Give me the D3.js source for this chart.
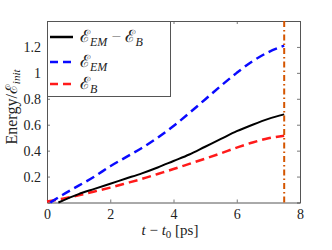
<!DOCTYPE html>
<html>
<head>
<meta charset="utf-8">
<script src="https://cdn.jsdelivr.net/npm/d3@7"></script>
<style>
  body { margin: 0; background: #fff; }
</style>
</head>
<body>
<svg width="332" height="250"></svg>
<script>
    // time axis [ps]
    const tDiff = [0.36, 1, 1.5, 2, 2.5, 3, 3.5, 4, 4.5, 5, 5.5, 6, 6.5, 7, 7.5];
    const diffVals = [0, 0.065, 0.105, 0.145, 0.185, 0.225, 0.27, 0.32, 0.37, 0.43, 0.49, 0.55, 0.6, 0.645, 0.68];

    const tEM = [0.1, 0.5, 1, 1.5, 2, 2.5, 3, 3.5, 4, 4.5, 5, 5.5, 6, 6.5, 7, 7.5];
    const emVals = [0, 0.06, 0.13, 0.2, 0.28, 0.35, 0.42, 0.5, 0.59, 0.69, 0.795, 0.9, 1.0, 1.09, 1.16, 1.21];

    const tB = [0, 0.5, 1, 1.5, 2, 2.5, 3, 3.5, 4, 4.5, 5, 5.5, 6, 6.5, 7, 7.5];
    const bVals = [0.008, 0.03, 0.055, 0.085, 0.115, 0.148, 0.182, 0.22, 0.258, 0.298, 0.338, 0.38, 0.423, 0.463, 0.495, 0.515];

    const tEnd = 7.5;
    const xTicks = [0, 2, 4, 6, 8];
    const yTicks = [0.2, 0.4, 0.6, 0.8, 1, 1.2];

    const SERIF = "Liberation Serif";
    const CAL = "DejaVu Serif";

    const svg = d3.select("svg");
    const margin = { top: 21, right: 32, bottom: 47.5, left: 47 };
    const width = +svg.attr("width");
    const height = +svg.attr("height");

    const x = d3.scaleLinear().domain([0, 8]).range([margin.left, width - margin.right]);
    const y = d3.scaleLinear().domain([0, 1.4]).range([height - margin.bottom, margin.top]);

    const axisCol = "#555";
    const tickFmt = d => d3.format("~g")(d);

    // axes (box on, ticks inwards)
    svg.append("g").attr("class", "ax")
      .attr("transform", `translate(0,${y(0)})`)
      .call(d3.axisBottom(x).tickValues(xTicks).tickSize(-3).tickPadding(7).tickFormat(tickFmt));
    svg.append("g").attr("class", "ax")
      .attr("transform", `translate(0,${y(1.4)})`)
      .call(d3.axisTop(x).tickValues(xTicks).tickSize(-3).tickFormat(""));
    svg.append("g").attr("class", "ax")
      .attr("transform", `translate(${x(0)},0)`)
      .call(d3.axisLeft(y).tickValues(yTicks).tickSize(-3).tickPadding(6).tickFormat(tickFmt));
    svg.append("g").attr("class", "ax")
      .attr("transform", `translate(${x(8)},0)`)
      .call(d3.axisRight(y).tickValues(yTicks).tickSize(-3).tickFormat(""));

    svg.selectAll(".ax").attr("font-family", SERIF).attr("font-size", 14);
    svg.selectAll(".ax path").attr("stroke", axisCol).attr("stroke-width", 1);
    svg.selectAll(".ax line").attr("stroke", axisCol).attr("stroke-width", 0.8);
    svg.selectAll(".ax text").attr("fill", "#222");

    // lines
    const line = d3.line().x(d => x(d[0])).y(d => y(d[1])).curve(d3.curveMonotoneX);
    const zip = (a, b) => a.map((v, i) => [v, b[i]]);

    svg.append("path").datum(zip(tB, bVals))
      .attr("d", line).attr("fill", "none")
      .attr("stroke", "#ff1a1a").attr("stroke-width", 2.5).attr("stroke-dasharray", "9,5");
    svg.append("path").datum(zip(tEM, emVals))
      .attr("d", line).attr("fill", "none")
      .attr("stroke", "#0a0aff").attr("stroke-width", 2.5).attr("stroke-dasharray", "9,5");
    svg.append("path").datum(zip(tDiff, diffVals))
      .attr("d", line).attr("fill", "none")
      .attr("stroke", "#000").attr("stroke-width", 2);

    // end-of-simulation marker
    svg.append("line")
      .attr("x1", x(tEnd)).attr("x2", x(tEnd))
      .attr("y1", y(0)).attr("y2", y(1.4))
      .attr("stroke", "#d45500").attr("stroke-width", 2)
      .attr("stroke-dasharray", "6,3,1.5,3");

    // legend
    const lg = svg.append("g").attr("font-family", SERIF).attr("fill", "#222");
    lg.append("rect")
      .attr("x", x(0) + 0.5).attr("y", y(1.4) + 0.5)
      .attr("width", 123).attr("height", 75)
      .attr("fill", "#fff").attr("stroke", axisCol).attr("stroke-width", 1);

    const items = [
      { col: "#000", dash: null, sub1: "EM", extra: true, yy: 37 },
      { col: "#0a0aff", dash: "8,5", sub1: "EM", extra: false, yy: 62 },
      { col: "#ff1a1a", dash: "8,5", sub1: "B", extra: false, yy: 84 }
    ];
    items.forEach(it => {
      lg.append("line")
        .attr("x1", 50).attr("x2", 73).attr("y1", it.yy).attr("y2", it.yy)
        .attr("stroke", it.col).attr("stroke-width", 2.5)
        .attr("stroke-dasharray", it.dash);
      const t = lg.append("text").attr("x", 80).attr("y", it.yy + 5)
        .attr("font-size", 17);
      t.append("tspan").attr("font-family", CAL).text("ℰ");
      t.append("tspan").attr("dy", 4).attr("font-size", 12).attr("font-style", "italic").text(it.sub1);
      if (it.extra) {
        t.append("tspan").attr("dy", -4).attr("fill", "#888").text(" − ");
        t.append("tspan").attr("font-family", CAL).text("ℰ");
        t.append("tspan").attr("dy", 4).attr("font-size", 12).attr("font-style", "italic").text("B");
      }
    });

    // axis labels
    const xl = svg.append("text")
      .attr("x", 170).attr("y", 235)
      .attr("font-family", SERIF).attr("fill", "#222")
      .attr("text-anchor", "middle").attr("font-size", 15);
    xl.append("tspan").attr("font-style", "italic").text("t");
    xl.append("tspan").text(" − ");
    xl.append("tspan").attr("font-style", "italic").text("t");
    xl.append("tspan").attr("dy", 3).attr("font-size", 11).text("0");
    xl.append("tspan").attr("dy", -3).text("  [ps]");

    const yl = svg.append("text")
      .attr("transform", `translate(17,107) rotate(-90)`)
      .attr("font-family", SERIF).attr("fill", "#222")
      .attr("text-anchor", "middle").attr("font-size", 16);
    yl.append("tspan").text("Energy/");
    yl.append("tspan").attr("font-family", CAL).text("ℰ");
    yl.append("tspan").attr("dy", 3).attr("font-size", 11).attr("font-style", "italic").text("init");
</script>
</body>
</html>
